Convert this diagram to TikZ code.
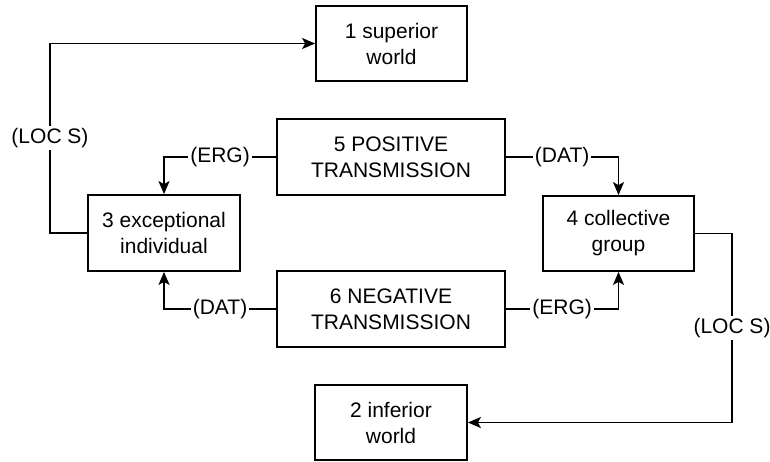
\documentclass[tikz,border=0pt]{standalone}
\usepackage{fontspec}
\setmainfont{Liberation Sans}
\usetikzlibrary{arrows.meta}
\begin{document}
\begin{tikzpicture}[x=1pt,y=-1pt,
  box/.style={draw, line width=1.8pt, align=center, inner sep=0pt,
    font=\fontsize{21}{26}\selectfont},
  conn/.style={line width=1.8pt, -{Stealth[length=13pt,width=11pt,inset=3pt]}},
  lbl/.style={fill=white, inner sep=2pt, font=\fontsize{21}{24}\selectfont}]
\useasboundingbox (0,0) rectangle (770,461);
% boxes
\node[box, minimum width=151pt, minimum height=75pt] (sup) at (391.5,43.5) {1 superior\\world};
\node[box, minimum width=228pt, minimum height=76pt] (pos) at (391,157) {5 POSITIVE\\TRANSMISSION};
\node[box, minimum width=152pt, minimum height=76pt] (exc) at (164,233) {3 exceptional\\individual};
\node[box, minimum width=151pt, minimum height=75pt] (col) at (618.5,233.5) {4 collective\\group};
\node[box, minimum width=228pt, minimum height=76pt] (neg) at (391,309) {6 NEGATIVE\\TRANSMISSION};
\node[box, minimum width=152pt, minimum height=75pt] (inf) at (391,422.5) {2 inferior\\world};
% routing corners
\coordinate (lc) at (50,233);
\coordinate (rc) at (732,233.5);
% connectors
\draw[conn] (exc.west) -- (lc) |- node[lbl, pos=0.25] {(LOC S)} (sup.west);
\draw[conn] (col.east) -- (rc) |- node[lbl, pos=0.25] {(LOC S)} (inf.east);
\draw[conn] (pos.west) -| node[lbl, pos=0.25] {(ERG)} (exc.north);
\draw[conn] (pos.east) -| node[lbl, pos=0.25] {(DAT)} (col.north);
\draw[conn] (neg.west) -| node[lbl, pos=0.25] {(DAT)} (exc.south);
\draw[conn] (neg.east) -| node[lbl, pos=0.25] {(ERG)} (col.south);
\end{tikzpicture}
\end{document}
